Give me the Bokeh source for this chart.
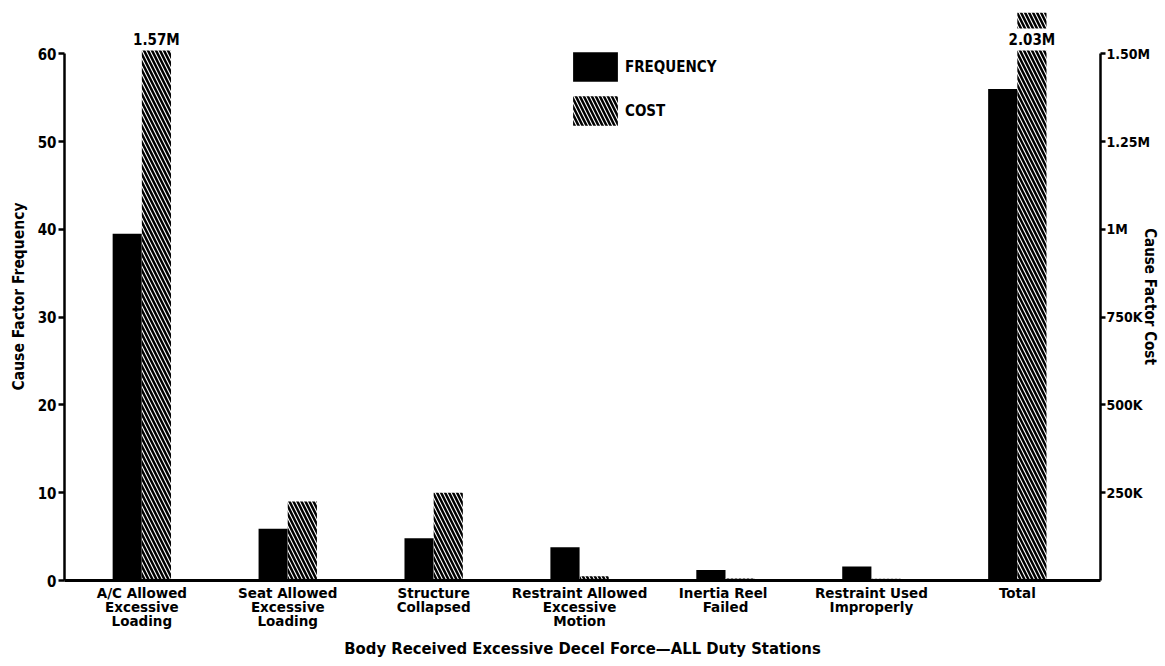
from bokeh.plotting import figure
from bokeh.models import Range1d, LinearAxis, FixedTicker, Legend, LegendItem, ColumnDataSource
from bokeh.embed import file_html
from bokeh.resources import INLINE
from bokeh.core.properties import value

# ---- data ----
categories = [
    "A/C Allowed\nExcessive\nLoading",
    "Seat Allowed\nExcessive\nLoading",
    "Structure\nCollapsed",
    "Restraint Allowed\nExcessive\nMotion",
    "Inertia  Reel\nFailed",
    "Restraint Used\nImproperly",
    "Total",
]
frequency = [39.5, 5.9, 4.8, 3.8, 1.2, 1.6, 56.0]
cost = [1570000, 225000, 250000, 12000, 6000, 5000, 2030000]
freq_ticks = [0, 10, 20, 30, 40, 50, 60]
cost_ticks = [250000, 500000, 750000, 1000000, 1250000, 1500000]
cost_tick_labels = ["250K", "500K", "750K", "1M", "1.25M", "1.50M"]

# ---- layout ----
FONT = "DejaVu Sans Condensed"
LFONT = "DejaVu Sans"
Y_END = 64.7
COST_PER_UNIT = 25000
COST_END = Y_END * COST_PER_UNIT
BW = 0.2

idx = list(range(len(categories)))
src = ColumnDataSource(dict(
    xf=[i - BW / 2 for i in idx],
    xc=[i + BW / 2 for i in idx],
    freq=frequency,
    cost=cost,
))

p = figure(width=1162, height=662, output_backend="svg", toolbar_location=None,
           x_range=Range1d(-0.53, 6.57), y_range=Range1d(0, Y_END),
           min_border_left=64, min_border_right=56, min_border_top=12, min_border_bottom=82)
p.extra_y_ranges = {"cost": Range1d(0, COST_END)}
p.outline_line_color = None
p.xgrid.visible = False
p.ygrid.visible = False
p.background_fill_color = "white"
p.border_fill_color = "white"

r_f = p.vbar(x="xf", top="freq", width=BW, source=src, fill_color="black", line_color=None)
r_c = p.vbar(x="xc", top="cost", width=BW, source=src, y_range_name="cost",
             fill_color="white", line_color=None, hatch_pattern="\\",
             hatch_color="black", hatch_weight=2.5, hatch_scale=8)

# labels for off-scale cost bars
big = [i for i in idx if cost[i] > cost_ticks[-1]]
p.text(x=[i + BW / 2 for i in big], y=[COST_END] * len(big),
       text=[f"{cost[i] / 1e6:.2f}M" for i in big], y_range_name="cost",
       y_offset=27, text_align="center", text_baseline="middle",
       text_font=value(FONT), text_font_style="bold", text_font_size="15px",
       text_color="black", background_fill_color="white", padding=2)

# x axis
xa = p.xaxis[0]
xa.ticker = FixedTicker(ticks=idx)
xa.major_label_overrides = {i: c for i, c in zip(idx, categories)}
xa.major_tick_line_color = None
xa.minor_tick_line_color = None
xa.axis_line_width = 3
xa.major_label_text_font = LFONT
xa.major_label_text_font_style = "bold"
xa.major_label_text_font_size = "13.5px"
xa.major_label_text_line_height = 0.9
xa.major_label_text_color = "black"
xa.major_label_standoff = -2
xa.axis_label = "Body Received Excessive Decel Force\u2014ALL Duty Stations"
xa.axis_label_text_font = FONT
xa.axis_label_text_font_style = "bold"
xa.axis_label_text_font_size = "16.5px"
xa.axis_label_text_color = "black"
xa.axis_label_standoff = 7

# left axis
ya = p.yaxis[0]
ya.bounds = (0, 60)
ya.ticker = FixedTicker(ticks=freq_ticks)
ya.minor_tick_line_color = None
ya.major_tick_in = 0
ya.major_tick_out = 6
ya.major_tick_line_width = 2.5
ya.axis_line_width = 2.5
ya.major_label_text_font = FONT
ya.major_label_text_font_style = "bold"
ya.major_label_text_font_size = "15px"
ya.major_label_text_color = "black"
ya.major_label_standoff = 2
ya.axis_label = "Cause Factor Frequency"
ya.axis_label_text_font = FONT
ya.axis_label_text_font_style = "bold"
ya.axis_label_text_font_size = "15.5px"
ya.axis_label_text_color = "black"
ya.axis_label_standoff = 7

# right axis
ra = LinearAxis(y_range_name="cost", bounds=(0, 1500000),
                ticker=FixedTicker(ticks=cost_ticks))
ra.major_label_overrides = {t: l for t, l in zip(cost_ticks, cost_tick_labels)}
ra.minor_tick_line_color = None
ra.major_tick_in = 0
ra.major_tick_out = 5
ra.major_tick_line_width = 2.5
ra.axis_line_width = 2.5
ra.major_label_text_font = FONT
ra.major_label_text_font_style = "bold"
ra.major_label_text_font_size = "14px"
ra.major_label_text_color = "black"
ra.major_label_standoff = 1
ra.axis_label = "Cause Factor Cost"
ra.axis_label_text_font = FONT
ra.axis_label_text_font_style = "bold"
ra.axis_label_text_font_size = "15px"
ra.axis_label_text_color = "black"
ra.axis_label_standoff = -12
p.add_layout(ra, "right")

legend = Legend(items=[LegendItem(label="FREQUENCY", renderers=[r_f]),
                       LegendItem(label="COST", renderers=[r_c])],
                location=(503, 451), orientation="vertical",
                glyph_width=56, glyph_height=37, spacing=7, padding=0, margin=0,
                label_standoff=2, border_line_color=None, background_fill_alpha=0,
                label_text_font=FONT, label_text_font_style="bold",
                label_text_font_size="15px", label_text_color="black")
p.add_layout(legend, "center")

open("out.html", "w").write(file_html(p, INLINE))
